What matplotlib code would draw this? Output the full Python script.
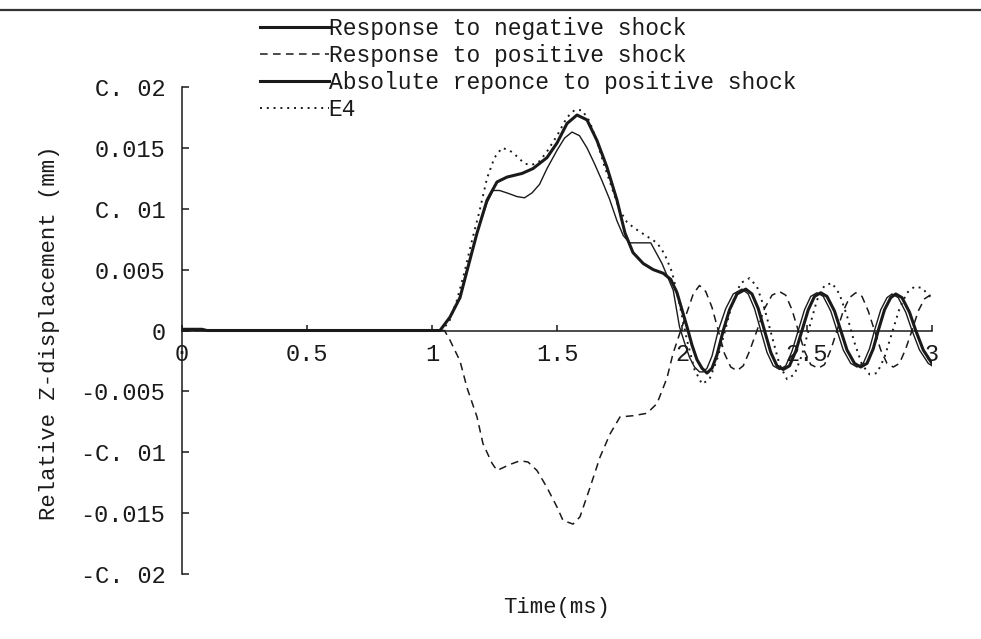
import numpy as np
import matplotlib.pyplot as plt
from matplotlib.lines import Line2D

plt.rcParams['font.family'] = ['Liberation Mono', 'DejaVu Sans Mono']

### DATA ######################################################################
# response to negative shock (heavy solid)
t_neg = [0.0, 0.02, 0.04, 0.06, 0.08, 0.10, 1.0, 1.032, 1.072, 1.112, 1.14,
         1.18, 1.22, 1.26, 1.30, 1.36, 1.404, 1.46, 1.50, 1.54, 1.58, 1.62,
         1.66, 1.70, 1.74, 1.772, 1.804, 1.845, 1.885, 1.925, 1.955, 1.98,
         2.0, 2.02, 2.04, 2.06, 2.08, 2.10, 2.12, 2.14, 2.165, 2.19, 2.22,
         2.255, 2.28, 2.305, 2.33, 2.355, 2.38, 2.405, 2.43, 2.455, 2.48,
         2.505, 2.53, 2.555, 2.58, 2.61, 2.635, 2.66, 2.69, 2.715, 2.74,
         2.765, 2.785, 2.81, 2.835, 2.855, 2.88, 2.91, 2.935, 2.965, 3.0]
y_neg = [0.0001, 0.0001, 0.0001, 0.0001, 0.0001, 0.0, 0.0, 0.0, 0.0011,
         0.0027, 0.0049, 0.0080, 0.0107, 0.0122, 0.0126, 0.0129, 0.0133,
         0.0142, 0.0154, 0.0170, 0.0177, 0.0173, 0.0156, 0.0134, 0.0107,
         0.0080, 0.0064, 0.0055, 0.0050, 0.0047, 0.0042, 0.0031, 0.0017,
         0.0003, -0.0012, -0.0024, -0.0031, -0.0035, -0.0031, -0.0020,
         0.0000, 0.0017, 0.0030, 0.0034, 0.0030, 0.0018, 0.0, -0.0018,
         -0.0029, -0.0032, -0.0029, -0.0017, 0.0, 0.0017, 0.0028, 0.0031,
         0.0028, 0.0016, 0.0, -0.0016, -0.0027, -0.0030, -0.0027, -0.0015,
         0.0, 0.0017, 0.0027, 0.0030, 0.0027, 0.0015, 0.0, -0.0016, -0.0027]

# response to positive shock (dashed)
t_pos = [0.0, 1.05, 1.072, 1.112, 1.14, 1.18, 1.204, 1.24, 1.26, 1.312,
         1.352, 1.384, 1.42, 1.46, 1.50, 1.524, 1.564, 1.592, 1.632, 1.672,
         1.712, 1.752, 1.804, 1.86, 1.90, 1.94, 1.964, 1.99, 2.02, 2.045,
         2.07, 2.095, 2.12, 2.145, 2.17, 2.195, 2.22, 2.245, 2.27, 2.30,
         2.33, 2.36, 2.39, 2.415, 2.44, 2.465, 2.49, 2.515, 2.545, 2.57,
         2.595, 2.62, 2.645, 2.67, 2.695, 2.72, 2.745, 2.77, 2.795, 2.82,
         2.845, 2.87, 2.895, 2.92, 2.945, 2.97, 3.0]
y_pos = [0.0, 0.0, -0.0008, -0.0025, -0.0047, -0.0071, -0.0093, -0.0109,
         -0.0115, -0.0110, -0.0107, -0.0108, -0.0115, -0.0129, -0.0145,
         -0.0156, -0.0159, -0.0153, -0.0129, -0.0104, -0.0085, -0.0071,
         -0.0070, -0.0068, -0.0060, -0.0039, -0.0019, -0.0003, 0.0015, 0.0030,
         0.0037, 0.0032, 0.0019, 0.0, -0.0019, -0.0030, -0.0033, -0.0029,
         -0.0017, 0.0, 0.0018, 0.0029, 0.0032, 0.0029, 0.0017, 0.0, -0.0017,
         -0.0028, -0.0031, -0.0028, -0.0016, 0.0, 0.0016, 0.0027, 0.0031,
         0.0028, 0.0016, 0.0, -0.0016, -0.0027, -0.0030, -0.0027, -0.0015,
         0.0, 0.0016, 0.0026, 0.0030]

# absolute response to positive shock (thin solid)
t_abs = [0.0, 1.0, 1.032, 1.072, 1.112, 1.14, 1.18, 1.22, 1.244, 1.27, 1.30,
         1.34, 1.37, 1.40, 1.43, 1.46, 1.50, 1.53, 1.56, 1.59, 1.62, 1.65,
         1.68, 1.71, 1.74, 1.765, 1.79, 1.875, 1.92, 1.965, 1.99, 2.01,
         2.03, 2.05, 2.07, 2.085, 2.10, 2.12, 2.145, 2.175, 2.205, 2.24,
         2.265, 2.29, 2.315, 2.34, 2.365, 2.39, 2.415, 2.44, 2.465, 2.49,
         2.515, 2.54, 2.565, 2.595, 2.62, 2.645, 2.675, 2.70, 2.725, 2.75,
         2.77, 2.795, 2.82, 2.84, 2.865, 2.895, 2.92, 2.95, 2.985, 3.0]
y_abs = [0.0, 0.0, 0.0, 0.0011, 0.0027, 0.0049, 0.0080, 0.0105, 0.0115,
         0.0115, 0.0113, 0.0110, 0.0109, 0.0113, 0.0120, 0.0133, 0.0148,
         0.0158, 0.0163, 0.0160, 0.0150, 0.0137, 0.0123, 0.0108, 0.0090,
         0.0078, 0.0072, 0.0072, 0.0055, 0.0033, 0.0003, -0.0010, -0.0022,
         -0.0030, -0.0034, -0.0034, -0.0031, -0.0021, 0.0, 0.0018, 0.0030,
         0.0034, 0.0030, 0.0018, 0.0, -0.0018, -0.0029, -0.0032, -0.0029,
         -0.0017, 0.0, 0.0017, 0.0028, 0.0031, 0.0028, 0.0016, 0.0, -0.0016,
         -0.0027, -0.0030, -0.0027, -0.0015, 0.0, 0.0017, 0.0027, 0.0030,
         0.0027, 0.0015, 0.0, -0.0016, -0.0027, -0.0029]

# E4 (dotted)
t_e4 = [0.0, 1.04, 1.07, 1.10, 1.13, 1.16, 1.19, 1.22, 1.25, 1.28, 1.31,
        1.34, 1.37, 1.40, 1.43, 1.46, 1.50, 1.54, 1.57, 1.60, 1.63, 1.66,
        1.69, 1.72, 1.75, 1.78, 1.81, 1.84, 1.87, 1.90, 1.93, 1.96, 1.99,
        2.02, 2.05, 2.08, 2.11, 2.14, 2.17, 2.20, 2.235, 2.27, 2.30, 2.33,
        2.36, 2.39, 2.42, 2.45, 2.48, 2.51, 2.54, 2.57, 2.60, 2.63, 2.66,
        2.69, 2.72, 2.75, 2.78, 2.81, 2.84, 2.87, 2.90, 2.93, 2.96, 3.0]
y_e4 = [0.0, 0.0, 0.0008, 0.0025, 0.0048, 0.0074, 0.0098, 0.0125, 0.0142,
        0.0150, 0.0148, 0.0143, 0.0137, 0.0136, 0.0139, 0.0147, 0.0160,
        0.0175, 0.0181, 0.0181, 0.0172, 0.0155, 0.0135, 0.0117, 0.0099,
        0.0089, 0.0084, 0.0080, 0.0076, 0.0072, 0.0063, 0.0048, 0.0022,
        -0.0008, -0.0032, -0.0044, -0.0040, -0.0024, -0.0002, 0.0022, 0.0039,
        0.0043, 0.0036, 0.0018, -0.0005, -0.0028, -0.0040, -0.0036, -0.0020,
        0.0003, 0.0025, 0.0037, 0.0039, 0.0030, 0.0012, -0.0010, -0.0028,
        -0.0036, -0.0035, -0.0022, -0.0002, 0.0018, 0.0031, 0.0036, 0.0035,
        0.0026]

xticks = [0, 0.5, 1, 1.5, 2, 2.5, 3]
xticklabels = ['0', '0.5', '1', '1.5', '2', '2.5', '3']
yticks = [0.02, 0.015, 0.01, 0.005, 0, -0.005, -0.01, -0.015, -0.02]
yticklabels = ['C. 02', '0.015', 'C. 01', '0.005', '0', '-0.005', '-C. 01',
               '-0.015', '-C. 02']
labels = ['Response to negative shock', 'Response to positive shock',
          'Absolute reponce to positive shock', 'E4']
###############################################################################

ink = '#1a1a1a'
fig = plt.figure(figsize=(9.81, 6.39), dpi=100)
ax = fig.add_axes([182/981, 65/639, 750/981, 487/639])

ax.plot(t_abs, y_abs, color=ink, lw=1.0, zorder=4)
ax.plot(t_pos, y_pos, color=ink, lw=1.1, dashes=(5, 3.5), zorder=3)
ax.plot(t_e4, y_e4, color=ink, lw=1.4, dashes=(1, 2.5), zorder=3)
ax.plot(t_neg, y_neg, color=ink, lw=2.2, zorder=5)

ax.set_xlim(0, 3)
ax.set_ylim(-0.02, 0.02)
ax.spines['top'].set_visible(False)
ax.spines['right'].set_visible(False)
ax.spines['bottom'].set_position(('data', 0))
for s in ('left', 'bottom'):
    ax.spines[s].set_color(ink)
    ax.spines[s].set_linewidth(1.1)

ax.set_xticks(xticks)
ax.set_xticklabels(xticklabels)
ax.set_yticks(yticks)
ax.set_yticklabels(yticklabels)
ax.tick_params(axis='y', direction='in', length=5, width=1.1, pad=12,
               labelsize=17, colors=ink)
ax.tick_params(axis='x', direction='in', length=4, width=1.1, pad=9,
               labelsize=17, colors=ink)

fig.text(557/981, 1 - 607/639, 'Time(ms)', ha='center', va='center',
         fontsize=16, color=ink)
fig.text(50/981, 1 - 333/639, 'Relative Z-displacement (mm)', rotation=90,
         ha='center', va='center', fontsize=16, color=ink)

# legend without frame, sitting above the plot
handles = [Line2D([], [], color=ink, lw=2.2),
           Line2D([], [], color=ink, lw=1.1, dashes=(5, 3.5)),
           Line2D([], [], color=ink, lw=2.2),
           Line2D([], [], color=ink, lw=1.4, dashes=(1, 2.5))]
fig.legend(handles, labels, loc='upper left',
           bbox_to_anchor=(260/981, 1 - 17/639), frameon=False,
           fontsize=16.5, handlelength=3.0, handletextpad=0.0,
           labelspacing=0.18, borderpad=0, borderaxespad=0,
           labelcolor=ink)

# rule across the top of the page
fig.add_artist(Line2D([0, 1], [1 - 10/639, 1 - 10/639], color='#333333',
                      lw=1.6))

fig.savefig('out.png', dpi=100, facecolor='white')
